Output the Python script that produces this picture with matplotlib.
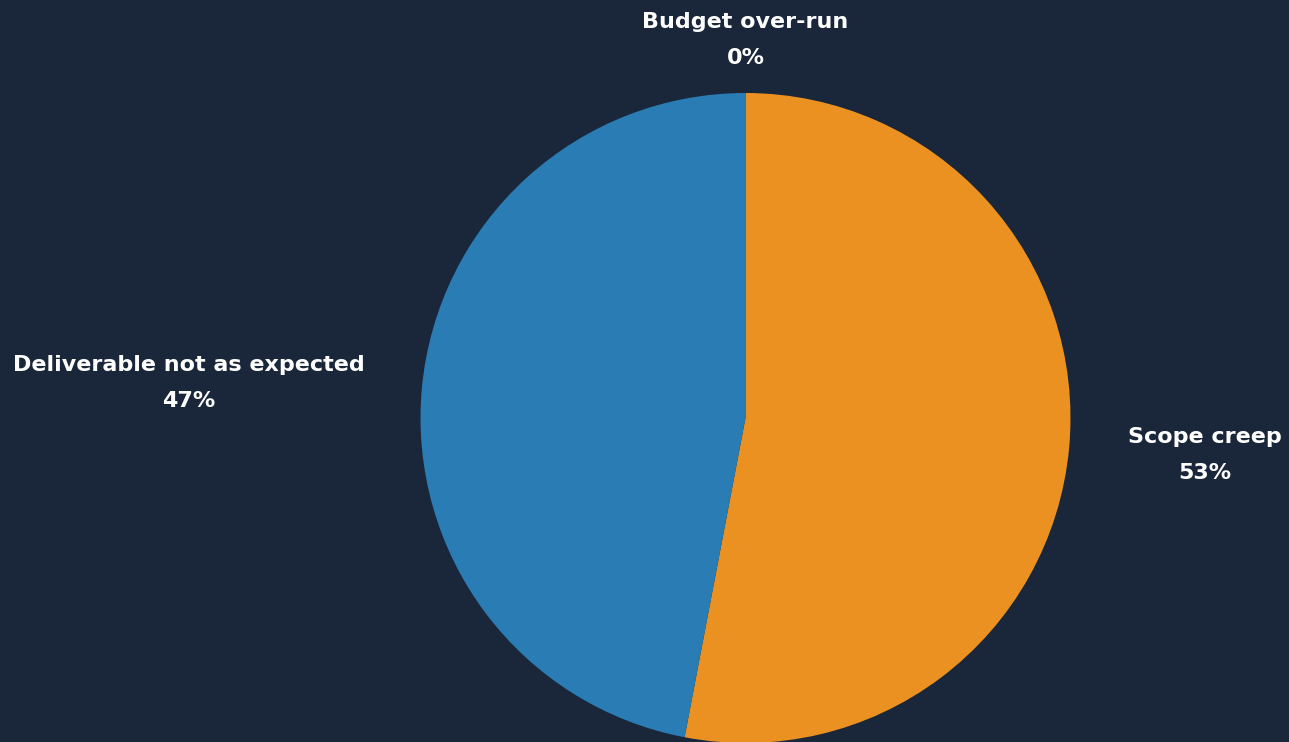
import numpy as np
import matplotlib
matplotlib.use("Agg")
import matplotlib.pyplot as plt

categories = ["Scope creep", "Deliverable not as expected", "Budget over-run"]
values = [53, 47, 0]
colors = ["#ea9122", "#2a7cb4", "#7f7f7f"]
# label anchor offsets from pie centre, in units of the radius
label_offsets = [(1.414, -0.114), (-1.712, 0.108), (0.0, 1.163)]

bg = "#1a2639"
W, H = 1289, 742
fig = plt.figure(figsize=(W / 100, H / 100), dpi=100, facecolor=bg)
ax = fig.add_axes([0, 0, 1, 1])
ax.set_facecolor(bg)

cx, cy, r = 745.5, H - 418, 325
wedges, _ = ax.pie(values, colors=colors, startangle=90, counterclock=False,
                   center=(cx, cy), radius=r, frame=True,
                   wedgeprops=dict(linewidth=0))
ax.set_xlim(0, W)
ax.set_ylim(0, H)
ax.set_aspect("equal")
ax.axis("off")

total = sum(values)
for cat, v, (dx, dy) in zip(categories, values, label_offsets):
    ax.text(cx + dx * r, cy + dy * r, f"{cat}\n{round(v / total * 100)}%",
            ha="center", va="center", color="white", fontsize=16,
            fontweight="bold", family="DejaVu Sans", linespacing=1.97)

fig.savefig("out.png", dpi=100, facecolor=bg)
